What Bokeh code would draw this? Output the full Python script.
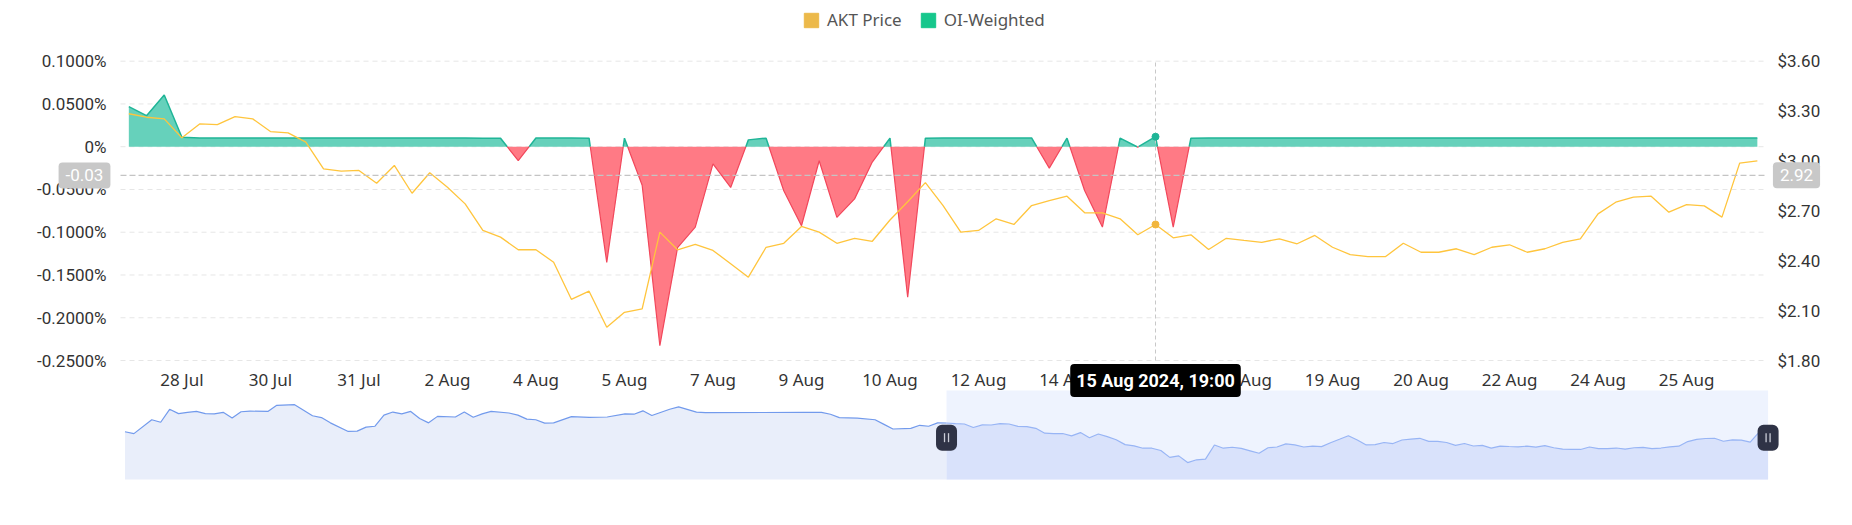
import numpy as np
from bokeh.plotting import figure
from bokeh.models import Range1d, LinearAxis, FixedTicker, Label, Legend, LegendItem
from bokeh.embed import file_html
from bokeh.resources import INLINE

# ---------------- data (8-hourly points, 27 Jul 2024 11:00 -> 27 Aug 2024 03:00) -------------
oi_weighted = [
    0.0468, 0.0363, 0.0605, 0.0110, 0.0102, 0.0102, 0.0102, 0.0102, 0.0102, 0.0102,
    0.0102, 0.0102, 0.0102, 0.0102, 0.0102, 0.0102, 0.0102, 0.0102, 0.0102, 0.0102,
    0.0100, 0.0100, -0.0164, 0.0102, 0.0102, 0.0102, 0.0100, -0.1353, 0.0100, -0.0450,
    -0.2327, -0.1180, -0.0940, -0.0200, -0.0476, 0.0080, 0.0100, -0.0515, -0.0924, -0.0164,
    -0.0827, -0.0610, -0.0180, 0.0100, -0.1760, 0.0100, 0.0102, 0.0102, 0.0102, 0.0102,
    0.0102, 0.0102, -0.0250, 0.0100, -0.0515, -0.0940, 0.0100, -0.0005, 0.0117, -0.0940,
    0.0100, 0.0102, 0.0102, 0.0102, 0.0102, 0.0102, 0.0102, 0.0102, 0.0102, 0.0102,
    0.0102, 0.0102, 0.0102, 0.0102, 0.0102, 0.0102, 0.0102, 0.0102, 0.0102, 0.0102,
    0.0102, 0.0102, 0.0102, 0.0102, 0.0102, 0.0102, 0.0102, 0.0102, 0.0102, 0.0102,
    0.0102, 0.0102, 0.0102,
]
akt_price = [
    3.284, 3.263, 3.253, 3.139, 3.223, 3.219, 3.267, 3.253, 3.177, 3.169,
    3.113, 2.953, 2.939, 2.943, 2.866, 2.973, 2.806, 2.929, 2.842, 2.742,
    2.582, 2.542, 2.466, 2.466, 2.391, 2.168, 2.217, 2.000, 2.090, 2.111,
    2.572, 2.466, 2.498, 2.462, 2.382, 2.301, 2.481, 2.505, 2.606, 2.572,
    2.505, 2.535, 2.517, 2.645, 2.755, 2.870, 2.732, 2.572, 2.582, 2.652,
    2.618, 2.732, 2.762, 2.788, 2.688, 2.688, 2.652, 2.556, 2.618, 2.538,
    2.556, 2.468, 2.535, 2.522, 2.511, 2.532, 2.502, 2.552, 2.481, 2.437,
    2.425, 2.425, 2.505, 2.451, 2.451, 2.472, 2.437, 2.481, 2.496, 2.451,
    2.472, 2.511, 2.532, 2.682, 2.752, 2.782, 2.788, 2.692, 2.738, 2.730,
    2.662, 2.987, 3.001,
]
# navigator: earlier AKT price (8h steps before the first main point, step offsets)
nav_prev_step = [-92, -91, -89, -88, -87, -86, -85, -84, -83, -82, -81, -80, -79, -78, -76,
                 -75, -73, -71, -70, -69, -67, -66, -65, -64, -63, -62, -61, -60, -59, -58,
                 -57, -55, -54, -53, -52, -51, -49, -48, -47, -46, -45, -44, -42, -40, -38,
                 -36, -35, -34, -33, -31, -30, -28, -27, -16, -14, -13, -12, -10, -8, -7,
                 -6, -4, -3, -2, -1]
nav_prev_price = [3.00, 2.94, 3.39, 3.31, 3.73, 3.59, 3.63, 3.66, 3.59, 3.58, 3.63, 3.45, 3.65,
                  3.67, 3.66, 3.86, 3.88, 3.52, 3.46, 3.29, 3.01, 3.02, 3.15, 3.18, 3.54, 3.64,
                  3.58, 3.66, 3.43, 3.29, 3.50, 3.48, 3.64, 3.47, 3.58, 3.66, 3.61, 3.54, 3.41,
                  3.39, 3.28, 3.29, 3.49, 3.47, 3.48, 3.58, 3.57, 3.68, 3.53, 3.73, 3.81, 3.64,
                  3.62, 3.63, 3.63, 3.57, 3.46, 3.44, 3.39, 3.24, 3.09, 3.11, 3.21, 3.18, 3.29]

x_tick_labels = ["28 Jul", "30 Jul", "31 Jul", "2 Aug", "4 Aug", "5 Aug", "7 Aug", "9 Aug",
                 "10 Aug", "12 Aug", "14 Aug", "15 Aug", "17 Aug", "19 Aug", "20 Aug",
                 "22 Aug", "24 Aug", "25 Aug"]
x_tick_first, x_tick_every = 3, 5
rate_ticks = [0.10, 0.05, 0.0, -0.05, -0.10, -0.15, -0.20, -0.25]
rate_tick_labels = ["0.1000%", "0.0500%", "0%", "-0.0500%", "-0.1000%", "-0.1500%",
                    "-0.2000%", "-0.2500%"]
price_ticks = [3.60, 3.30, 3.00, 2.70, 2.40, 2.10, 1.80]
price_tick_labels = ["$3.60", "$3.30", "$3.00", "$2.70", "$2.40", "$2.10", "$1.80"]

cross_index = 58
cross_rate = -0.0336
cross_price = 2.914
cross_rate_text = "-0.03"
cross_price_text = "2.92"
tooltip_text = "15 Aug 2024, 19:00"

# ---------------- geometry: one canvas-wide frame, plot areas placed by ranges ----------------
W, H = 1844, 488
FONT_NUM = "Roboto"
FONT_TXT = "Noto Sans"

# main plot area (pixels from top-left) and its data extents
PL, PR, PT, PB = 120.0, 1765.0, 60.7, 360.0
X0, X1 = -0.47, 92.46
R0, R1 = -0.25, 0.10
P0, P1 = 1.80, 3.60
# navigator area and its data extents
NL, NR, NT, NB = 115.0, 1780.0, 390.0, 479.0
J0, J1 = -93.06, 93.39
N0, N1 = 1.45, 4.34


def extend(v0, v1, a0, a1, total):
    """range covering pixels 0..total where v0..v1 occupy pixels a0..a1"""
    per = (v1 - v0) / (a1 - a0)
    return v0 - a0 * per, v1 + (total - a1) * per


def extend_y(v0, v1, top, bottom, total):
    per = (v1 - v0) / (bottom - top)
    return v0 - (total - bottom) * per, v1 + top * per


xr = extend(X0, X1, PL, PR, W)
yr = extend_y(R0, R1, PT, PB, H)
pr = extend_y(P0, P1, PT, PB, H)
jr = extend(J0, J1, NL, NR, W)
nr = extend_y(N0, N1, NT, NB, H)
xpx = (X1 - X0) / (PR - PL)
ypx = (R1 - R0) / (PB - PT)
jpx = (J1 - J0) / (NR - NL)

p = figure(width=W, height=H, output_backend="svg", toolbar_location=None,
           x_range=Range1d(*xr), y_range=Range1d(*yr), min_border=0,
           min_border_left=0, min_border_right=0, min_border_top=0, min_border_bottom=0)
p.extra_y_ranges = {"price": Range1d(*pr), "navy": Range1d(*nr)}
p.extra_x_ranges = {"nav": Range1d(*jr)}
p.outline_line_color = None
p.background_fill_color = "white"
p.border_fill_color = "white"
p.grid.visible = False

idx = np.arange(len(oi_weighted), dtype=float)
rates = np.array(oi_weighted)
prices = np.array(akt_price)

# ---------------- navigator ----------------
sel_start, sel_end = 0, len(akt_price) - 1
left_x = np.array(nav_prev_step + [0], dtype=float)
left_y = np.array(nav_prev_price + [akt_price[0]])
nv = dict(x_range_name="nav", y_range_name="navy")
p.quad(left=[sel_start], right=[sel_end], bottom=[N0], top=[N1],
       fill_color="#eef3fe", line_color=None, **nv)
p.varea(x=left_x, y1=N0, y2=left_y, fill_color="#e9eefa", **nv)
p.varea(x=idx, y1=N0, y2=prices, fill_color="#d9e2fb", **nv)
p.line(left_x, left_y, line_color="#729aec", line_width=1.2, **nv)
p.line(idx, prices, line_color="#98b5f5", line_width=1.2, **nv)
hy = N0 + (N1 - N0) * 0.47
p.rect(x=[sel_start, sel_end], y=[hy, hy], width=21, height=26, width_units="screen",
       height_units="screen", fill_color="#2f3346", line_color=None, border_radius=6, **nv)
for h in (sel_start, sel_end):
    p.rect(x=[h - 2 * jpx, h + 2 * jpx], y=[hy, hy], width=1.3, height=9,
           width_units="screen", height_units="screen", fill_color="#c9ccd6",
           line_color=None, **nv)

# ---------------- axes (fixed at the plot-area edges) ----------------
xt = [x_tick_first + x_tick_every * k for k in range(len(x_tick_labels))]
p.xaxis.ticker = FixedTicker(ticks=xt)
p.xaxis.major_label_overrides = {t: l for t, l in zip(xt, x_tick_labels)}
p.xaxis.fixed_location = R0
p.yaxis.ticker = FixedTicker(ticks=rate_ticks)
p.yaxis.major_label_overrides = {t: l for t, l in zip(rate_ticks, rate_tick_labels)}
p.yaxis.fixed_location = X0
rax = LinearAxis(y_range_name="price", ticker=FixedTicker(ticks=price_ticks),
                 major_label_overrides={t: l for t, l in zip(price_ticks, price_tick_labels)},
                 fixed_location=X1)
p.add_layout(rax, "right")

for ax in p.axis:
    ax.axis_line_color = None
    ax.major_tick_line_color = None
    ax.minor_tick_line_color = None
    ax.major_tick_out = 0
    ax.major_tick_in = 0
    ax.minor_tick_out = 0
    ax.minor_tick_in = 0
    ax.major_label_text_color = "#333333"
p.xaxis.major_label_text_font = FONT_TXT
p.xaxis.major_label_text_font_size = "17px"
p.xaxis.major_label_standoff = 7
p.yaxis.major_label_text_font = FONT_NUM
p.yaxis.major_label_text_font_size = "17px"
p.yaxis.major_label_standoff = 14
rax.major_label_text_font = FONT_NUM
rax.major_label_text_font_size = "17px"
rax.major_label_standoff = 12

# horizontal grid lines over the plot area
p.segment(x0=[X0] * len(rate_ticks), x1=[X1] * len(rate_ticks), y0=rate_ticks,
          y1=rate_ticks, line_color="#e6e6e6", line_dash="5 4", line_width=1)

# ---------------- OI-weighted funding rate (positive / negative areas) ----------------
def with_crossings(xs, ys):
    ox, oy = [xs[0]], [ys[0]]
    for k in range(1, len(xs)):
        y0, y1 = ys[k - 1], ys[k]
        if (y0 > 0 > y1) or (y0 < 0 < y1):
            t = y0 / (y0 - y1)
            ox.append(xs[k - 1] + t * (xs[k] - xs[k - 1]))
            oy.append(0.0)
        ox.append(xs[k])
        oy.append(ys[k])
    return np.array(ox), np.array(oy)


cx, cy = with_crossings(idx, rates)
p.varea(x=cx, y1=0.0, y2=np.maximum(cy, 0.0), fill_color="#66d1bb", fill_alpha=1.0)
p.varea(x=cx, y1=0.0, y2=np.minimum(cy, 0.0), fill_color="#ff7a85", fill_alpha=1.0)
p.line(cx, np.where(cy >= 0, cy, np.nan), line_color="#1fb597", line_width=1.5)
p.line(cx, np.where(cy <= 0, cy, np.nan), line_color="#f2475b", line_width=1.2)

# ---------------- AKT price ----------------
p.line(idx, prices, y_range_name="price", line_color="#ffc53d", line_width=1.3)

# ---------------- crosshair ----------------
p.segment(x0=[cross_index], x1=[cross_index], y0=[R0], y1=[R1], line_color="#c8c8c8",
          line_dash="4 3", line_width=1)
p.segment(x0=[X0], x1=[X1], y0=[cross_rate], y1=[cross_rate], line_color="#c4c4c4",
          line_dash="6 3", line_width=1.2)
p.scatter([cross_index], [rates[cross_index]], size=7, color="#1fb597")
p.scatter([cross_index], [prices[cross_index]], y_range_name="price", size=7, color="#f2b63c")

common = dict(text_align="center", text_baseline="middle", text_color="white",
              text_font=FONT_NUM, background_fill_alpha=1.0, border_radius=4)
p.add_layout(Label(x=X0 - 36 * xpx, y=cross_rate, text=cross_rate_text,
                   text_font_size="17px", background_fill_color="#c8c8c8", padding=7,
                   **common))
p.add_layout(Label(x=X1 + 31 * xpx, y=cross_price, y_range_name="price",
                   text=cross_price_text, text_font_size="17px",
                   background_fill_color="#c8c8c8", padding=7, **common))
p.add_layout(Label(x=cross_index, y=R0 - 20 * ypx, text=tooltip_text,
                   text_font_size="18px", text_font_style="bold",
                   background_fill_color="black", padding=6, **common))

# ---------------- legend (swatch renderers carry no visible data) ----------------
r_price = p.quad(left=[np.nan], right=[np.nan], top=[np.nan], bottom=[np.nan],
                 fill_color="#ecb94a", line_color="#ecb94a")
r_oi = p.quad(left=[np.nan], right=[np.nan], top=[np.nan], bottom=[np.nan],
              fill_color="#16c78c", line_color="#16c78c")
legend = Legend(items=[LegendItem(label="AKT Price", renderers=[r_price]),
                       LegendItem(label="OI-Weighted", renderers=[r_oi])],
                location=(802, H - 31), orientation="horizontal",
                glyph_width=18, glyph_height=18, label_height=20,
                label_standoff=7, spacing=17, padding=0, margin=0,
                border_line_color=None, background_fill_alpha=0.0,
                label_text_font=FONT_TXT, label_text_font_size="17px",
                label_text_color="#555555")
p.add_layout(legend)

open("out.html", "w").write(file_html(p, INLINE))
